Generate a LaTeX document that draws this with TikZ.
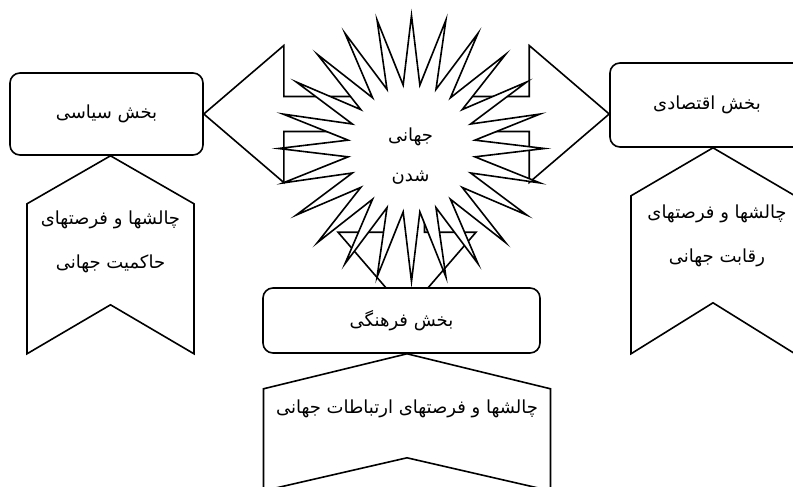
\documentclass[tikz,border=0pt]{standalone}
\usepackage{fontspec}
\newfontfamily\arabicfont[Script=Arabic]{DejaVu Sans}
\TeXXeTstate=1
\usetikzlibrary{positioning, calc, shapes.geometric, backgrounds}

\newcommand{\rtltext}[1]{\beginR #1\endR}

\begin{document}
\begin{tikzpicture}[
    x=1pt, y=-1pt,
    sector/.style={rectangle, rounded corners=10pt, draw=black, line width=1.6pt, fill=white, font=\arabicfont\fontsize{18}{22}\selectfont},
    note/.style={align=center, inner sep=0pt, font=\arabicfont\fontsize{18}{44}\selectfont},
    globe/.style={star, star points=24, star point ratio=2.08, draw=black, line width=1.6pt, fill=white, minimum size=266pt, inner sep=0pt},
    blockarrow/.style={draw=black, line width=1.6pt, fill=white},
    banner/.style={draw=black, line width=1.6pt, fill=white}
]
    \useasboundingbox (0,0) rectangle (793,487);

    % Sectors
    \node[sector, minimum width=193pt, minimum height=82pt] (politics) at (106.5,114) {\rtltext{بخش سیاسی}};
    \node[sector, minimum width=194pt, minimum height=84pt] (economy) at (707,105) {\rtltext{بخش اقتصادی}};
    \node[sector, minimum width=277pt, minimum height=65pt] (culture) at (401.5,320.5) {\rtltext{بخش فرهنگی}};

    % Banners under the sectors
    \coordinate (politics-tip) at ($(politics.south)+(4,0)$);
    \coordinate (economy-tip) at ($(economy.south)+(6,0)$);
    \coordinate (culture-tip) at ($(culture.south)+(5.5,0)$);

    \draw[banner] (politics-tip) -- ++(-83.5,48) -- ++(0,150) -- ++(83.5,-49) -- ++(83.5,49) -- ++(0,-150) -- cycle;
    \draw[banner] (economy-tip) -- ++(-82,48) -- ++(0,158) -- ++(82,-51) -- ++(82,51) -- ++(0,-158) -- cycle;
    \draw[banner] (culture-tip) -- ++(-143.5,35) -- ++(0,102) -- ++(143.5,-33) -- ++(143.5,33) -- ++(0,-102) -- cycle;

    \node[note] (politics-note) at ($(politics-tip)+(0,86)$) {\rtltext{چالشها و فرصتهای}\\\rtltext{حاکمیت جهانی}};
    \node[note] (economy-note) at ($(economy-tip)+(4,88)$) {\rtltext{چالشها و فرصتهای}\\\rtltext{رقابت جهانی}};
    \node[note] (culture-note) at ($(culture-tip)+(0,55)$) {\rtltext{چالشها و فرصتهای ارتباطات جهانی}};

    % Arrows and star behind
    \begin{scope}[on background layer]
        \coordinate (ltip) at (politics.east);
        \coordinate (rtip) at (economy.west |- politics.east);
        \coordinate (vtip) at ($(culture.north)+(5.5,25)$);

        \draw[blockarrow] (ltip) -- ++(80,-68.5) -- ++(0,51) -- ($(rtip)+(-80,-17.5)$) -- ++(0,-51) -- (rtip)
            -- ++(-80,68.5) -- ++(0,-51) -- ($(ltip)+(80,17.5)$) -- ++(0,51) -- cycle;
        \draw[blockarrow] (vtip) -- ++(-69,-80) -- ++(51.5,0) -- ++(0,-90) -- ++(35,0) -- ++(0,90) -- ++(51.5,0) -- cycle;

        \node[globe] (globe) at (411.5,148.5) {};
    \end{scope}

    \node[note, font=\arabicfont\fontsize{18}{40}\selectfont] (globe-text) at ($(globe.center)+(-1,8)$) {\rtltext{جهانی}\\\rtltext{شدن}};

\end{tikzpicture}
\end{document}
